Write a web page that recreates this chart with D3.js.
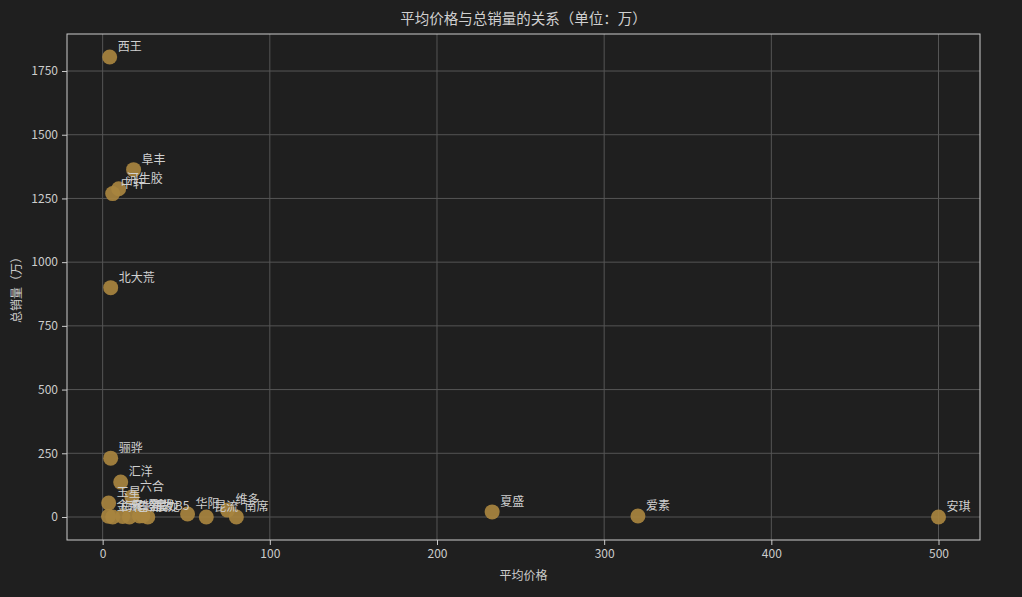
<!DOCTYPE html>
<html>
<head>
<meta charset="utf-8">
<script src="https://cdn.jsdelivr.net/npm/d3@7"></script>
<style>
  html, body { margin: 0; padding: 0; background: #1f1f1f; }
  #chart { width: 1022px; height: 597px; }
  text { font-family: "Noto Sans CJK SC", "Noto Sans", sans-serif; }
</style>
</head>
<body>
<div id="chart"></div>
<script>
// Chart data
const brands = ['西王', '阜丰', '河生胶', '中轩', '北大荒', '骊骅', '汇洋', '玉星', '六合',
  '金禾', '梅花', '保龄宝', '鲁洲', '星湖', '新发B5', '晨龙', '华阳', '昆流', '维多', '南席',
  '夏盛', '爱素', '安琪'];
const avgPrice = [4.2, 18.5, 9.6, 6.0, 4.8, 4.8, 10.8, 3.6, 17.5,
  3.5, 6.0, 12.0, 16.0, 22.0, 24.0, 27.0, 50.8, 62.0, 74.7, 80.0,
  233.0, 320.2, 500.0];
const totalSales = [1805, 1363, 1288, 1269, 900, 231, 137, 55, 78,
  3, 0, 2, 0, 4, 5, 0, 12, 0, 27, 0,
  20, 4, 0];
const xTicks = [0, 100, 200, 300, 400, 500];
const yTicks = [0, 250, 500, 750, 1000, 1250, 1500, 1750];

const width = 1022;
const height = 597;
const margin = { top: 34, right: 42, bottom: 57, left: 67 };

const points = brands.map((name, i) => ({ name, price: avgPrice[i], sales: totalSales[i] }));

const svg = d3.select('#chart').append('svg')
  .attr('width', width)
  .attr('height', height);

svg.append('rect')
  .attr('width', width)
  .attr('height', height)
  .attr('fill', '#1f1f1f');

// 5% padding around the data, like the original
const xMin = d3.min(avgPrice), xMax = d3.max(avgPrice);
const yMin = d3.min(totalSales), yMax = d3.max(totalSales);
const xPad = (xMax - xMin) * 0.05;
const yPad = (yMax - yMin) * 0.05;

const x = d3.scaleLinear()
  .domain([xMin - xPad, xMax + xPad])
  .range([margin.left, width - margin.right]);

const y = d3.scaleLinear()
  .domain([yMin - yPad, yMax + yPad])
  .range([height - margin.bottom, margin.top]);

// Grid lines
svg.append('g')
  .selectAll('line')
  .data(xTicks)
  .join('line')
  .attr('x1', d => x(d)).attr('x2', d => x(d))
  .attr('y1', margin.top).attr('y2', height - margin.bottom)
  .attr('stroke', '#555555')
  .attr('stroke-width', 1);

svg.append('g')
  .selectAll('line')
  .data(yTicks)
  .join('line')
  .attr('x1', margin.left).attr('x2', width - margin.right)
  .attr('y1', d => y(d)).attr('y2', d => y(d))
  .attr('stroke', '#555555')
  .attr('stroke-width', 1);

// Axes
const xAxis = svg.append('g')
  .attr('transform', `translate(0,${height - margin.bottom})`)
  .call(d3.axisBottom(x).tickValues(xTicks).tickFormat(d3.format('d')).tickSize(5).tickPadding(4));

const yAxis = svg.append('g')
  .attr('transform', `translate(${margin.left},0)`)
  .call(d3.axisLeft(y).tickValues(yTicks).tickFormat(d3.format('d')).tickSize(5).tickPadding(4));

[xAxis, yAxis].forEach(g => {
  g.select('.domain').remove();
  g.selectAll('line').attr('stroke', '#cccccc');
  g.selectAll('text')
    .attr('fill', '#cccccc')
    .style('font-size', '12px')
    .style('font-family', '"Noto Sans CJK SC", sans-serif');
});

// Frame
svg.append('rect')
  .attr('x', margin.left)
  .attr('y', margin.top)
  .attr('width', width - margin.left - margin.right)
  .attr('height', height - margin.top - margin.bottom)
  .attr('fill', 'none')
  .attr('stroke', '#cccccc')
  .attr('stroke-width', 1);

// Points
svg.append('g')
  .selectAll('circle')
  .data(points)
  .join('circle')
  .attr('cx', d => x(d.price))
  .attr('cy', d => y(d.sales))
  .attr('r', 7.5)
  .attr('fill', '#a8843f')
  .attr('fill-opacity', 0.92);

// Point labels
svg.append('g')
  .selectAll('text')
  .data(points)
  .join('text')
  .attr('x', d => x(d.price) + 8)
  .attr('y', d => y(d.sales) - 6)
  .attr('fill', '#d0d0d0')
  .style('font-size', '12px')
  .text(d => d.name);

// Title and axis labels
svg.append('text')
  .attr('x', (margin.left + width - margin.right) / 2)
  .attr('y', 24)
  .attr('text-anchor', 'middle')
  .attr('fill', '#d0d0d0')
  .style('font-size', '14.5px')
  .text('平均价格与总销量的关系（单位：万）');

svg.append('text')
  .attr('x', (margin.left + width - margin.right) / 2)
  .attr('y', 580)
  .attr('text-anchor', 'middle')
  .attr('fill', '#cccccc')
  .style('font-size', '12px')
  .text('平均价格');

svg.append('text')
  .attr('transform', `translate(21,${(margin.top + height - margin.bottom) / 2}) rotate(-90)`)
  .attr('text-anchor', 'middle')
  .attr('fill', '#cccccc')
  .style('font-size', '12px')
  .text('总销量（万）');
</script>
</body>
</html>
